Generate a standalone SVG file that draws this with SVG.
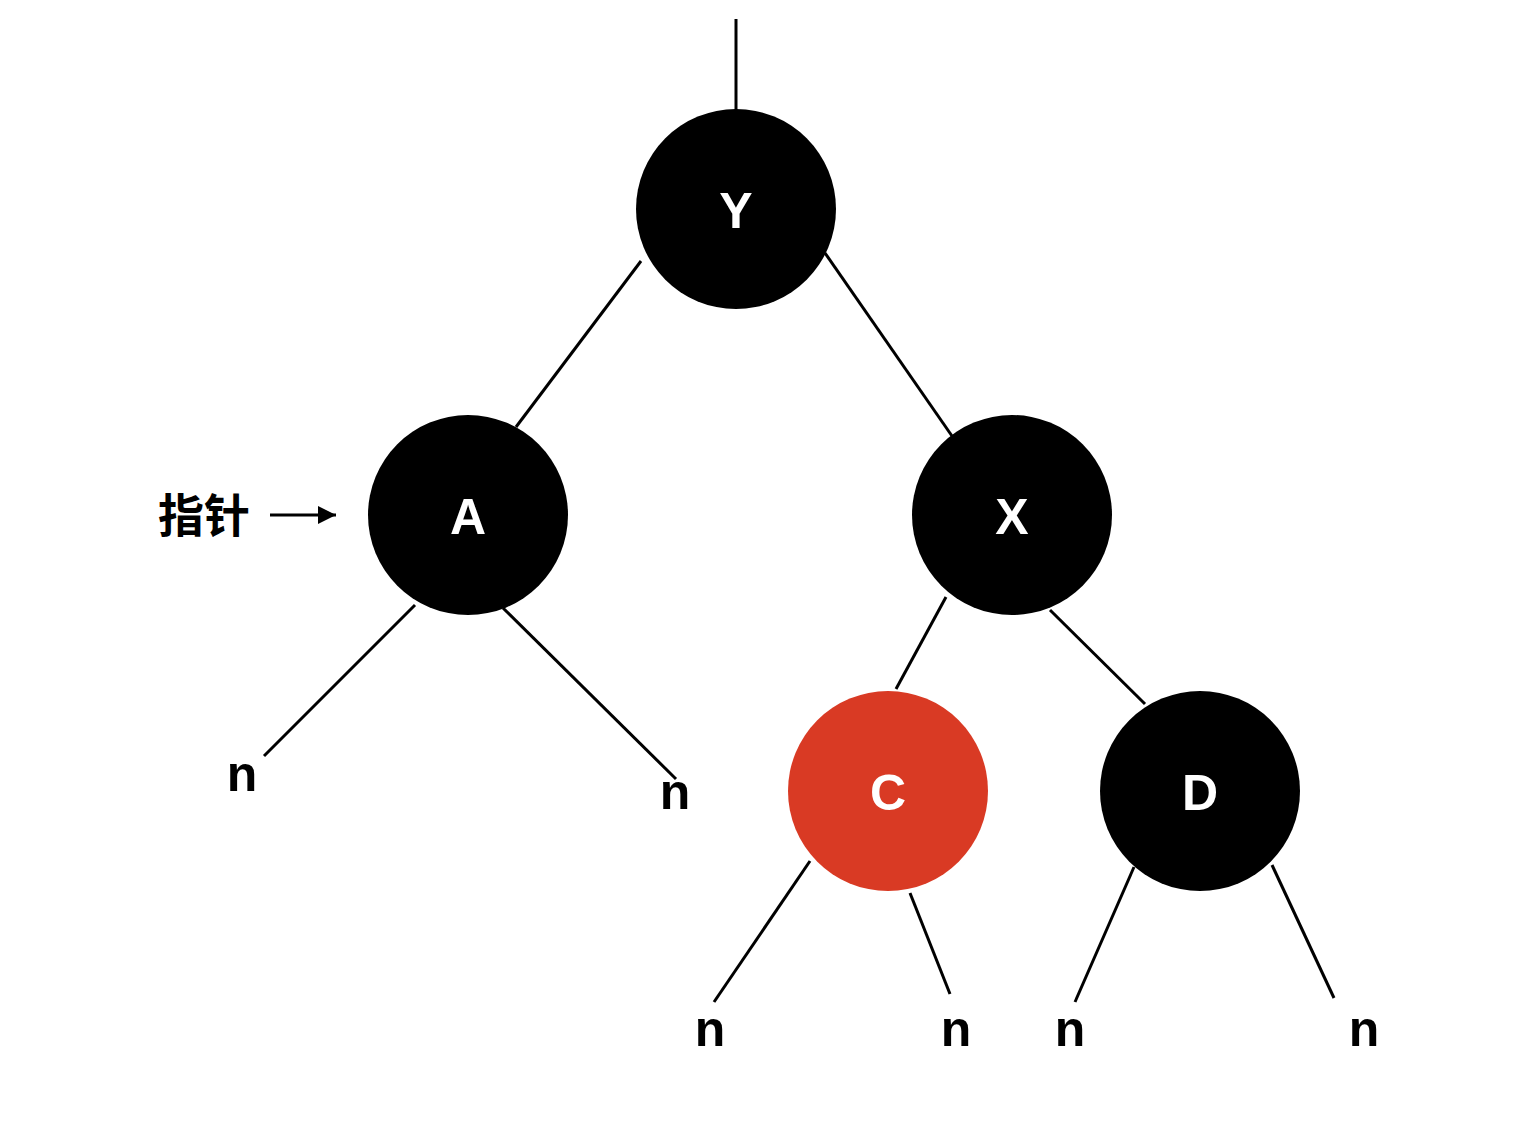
<svg xmlns="http://www.w3.org/2000/svg" width="1532" height="1148" viewBox="0 0 1532 1148">
<style>
.edge{stroke:#000;stroke-width:3;fill:none}
.node{fill:#000}
.red{fill:#d93a24}
.lbl{font-family:"Liberation Sans",Arial,sans-serif;font-weight:bold;font-size:50px;fill:#fff;text-anchor:middle}
.nil{font-family:"Liberation Sans",Arial,sans-serif;font-weight:bold;font-size:50px;fill:#000;text-anchor:middle}
.cjk{font-family:"Liberation Sans","Noto Sans CJK SC",sans-serif;font-weight:bold;font-size:46px;fill:#000}
</style>
<defs>
<marker id="ah" viewBox="0 0 10 10" refX="10" refY="5" markerWidth="6" markerHeight="6" markerUnits="strokeWidth" orient="auto">
<path d="M0,0 L10,5 L0,10 z" fill="#000"/>
</marker>
</defs>
<rect width="1532" height="1148" fill="#fff"/>
<g id="connectors">
<line class="edge" x1="736" y1="19" x2="736" y2="112"/>
<line class="edge" x1="641" y1="261" x2="516" y2="427"/>
<line class="edge" x1="825" y1="253" x2="952" y2="436"/>
<line class="edge" x1="415" y1="605" x2="264" y2="756"/>
<line class="edge" x1="503" y1="608" x2="676" y2="779"/>
<line class="edge" x1="946" y1="597" x2="896" y2="689"/>
<line class="edge" x1="1050" y1="610" x2="1145" y2="704"/>
<line class="edge" x1="810" y1="861" x2="714" y2="1002"/>
<line class="edge" x1="910" y1="893" x2="950" y2="994"/>
<line class="edge" x1="1134" y1="867" x2="1075" y2="1002"/>
<line class="edge" x1="1272" y1="865" x2="1334" y2="998"/>
<line class="edge" x1="270" y1="515" x2="336" y2="515" marker-end="url(#ah)"/>
</g>
<g id="node-Y"><circle class="node" cx="736" cy="209" r="100"/><text class="lbl" x="736" y="228">Y</text></g>
<g id="node-A"><circle class="node" cx="468" cy="515" r="100"/><text class="lbl" x="468" y="534">A</text></g>
<g id="node-X"><circle class="node" cx="1012" cy="515" r="100"/><text class="lbl" x="1012" y="534">X</text></g>
<g id="node-C"><circle class="red" cx="888" cy="791" r="100"/><text class="lbl" x="888" y="810">C</text></g>
<g id="node-D"><circle class="node" cx="1200" cy="791" r="100"/><text class="lbl" x="1200" y="810">D</text></g>
<g id="nil-1"><text class="nil" x="242" y="791">n</text></g>
<g id="nil-2"><text class="nil" x="675" y="809">n</text></g>
<g id="nil-3"><text class="nil" x="710" y="1046">n</text></g>
<g id="nil-4"><text class="nil" x="956" y="1046">n</text></g>
<g id="nil-5"><text class="nil" x="1070" y="1046">n</text></g>
<g id="nil-6"><text class="nil" x="1364" y="1046">n</text></g>
<g id="pointer-label"><text class="cjk" x="158" y="532">指针</text></g>
</svg>
